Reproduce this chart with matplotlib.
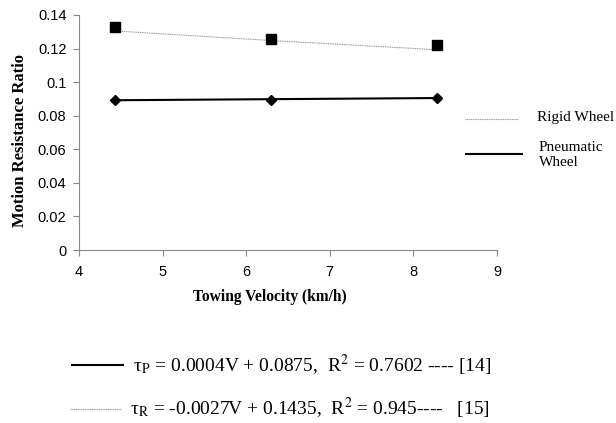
import numpy as np
import matplotlib
matplotlib.use('Agg')
import matplotlib.pyplot as plt

plt.rcParams['mathtext.fontset'] = 'stix'

# towing velocity (km/h)
velocity = [4.43, 6.30, 8.28]
rigid = [0.1329, 0.1256, 0.1222]
pneumatic = [0.0894, 0.0895, 0.0907]
# trend line values as drawn in the figure
rigid_trend = [0.1305, 0.1248, 0.1193]

x_ticks = [4, 5, 6, 7, 8, 9]
y_ticks = [0, 0.02, 0.04, 0.06, 0.08, 0.1, 0.12, 0.14]
y_ticklabels = ['0', '0.02', '0.04', '0.06', '0.08', '0.1', '0.12', '0.14']

eq_pneumatic = 'τ$_{\\mathrm{P}}$ = 0.0004V + 0.0875,  R$^{2}$ = 0.7602 ---- [14]'
eq_rigid = 'τ$_{\\mathrm{R}}$ = -0.0027V + 0.1435,  R$^{2}$ = 0.945----   [15]'

serif = 'Liberation Serif'
sans = 'Liberation Sans'
dotted = (0, (1, 0.6))

fig = plt.figure(figsize=(6.16, 4.23), dpi=100)
ax = fig.add_axes([79 / 616, 1 - 250 / 423, 418 / 616, 235 / 423])

v = np.array(velocity)
fit_p = np.polyfit(v, pneumatic, 1)
ax.plot(velocity, rigid_trend, color='#999999', lw=0.8, ls=dotted)
ax.plot(v, np.polyval(fit_p, v), color='black', lw=1.5)
ax.plot(velocity, rigid, 's', color='black', ms=7, ls='none')
ax.plot(velocity, pneumatic, 'D', color='black', ms=5.5, ls='none')

ax.set_xlim(4, 9)
ax.set_ylim(0, 0.14)
ax.set_xticks(x_ticks)
ax.set_yticks(y_ticks)
ax.set_yticklabels(y_ticklabels)
for s in ['top', 'right']:
    ax.spines[s].set_visible(False)
for s in ['left', 'bottom']:
    ax.spines[s].set_color('#888888')
ax.tick_params(direction='out', length=4, color='#888888', labelsize=10.5)
ax.tick_params(axis='x', pad=7)
ax.tick_params(axis='y', pad=5)
for lab in ax.get_xticklabels() + ax.get_yticklabels():
    lab.set_fontfamily(sans)

ax.set_xlabel('Towing Velocity (km/h)', fontfamily=serif, fontweight='bold', fontsize=11.2)
ax.xaxis.set_label_coords(0.457, -0.165)
ax.set_ylabel('Motion Resistance Ratio', fontfamily=serif, fontweight='bold', fontsize=12)
ax.yaxis.set_label_coords(-0.122, 0.464)

# side legend
fig.add_artist(plt.Line2D([465 / 616, 518 / 616], [1 - 119 / 423] * 2, color='#999999', lw=0.8, ls=dotted))
fig.text(537 / 616, 1 - 117 / 423, 'Rigid Wheel', fontfamily=serif, fontsize=11, va='center')
fig.add_artist(plt.Line2D([466 / 616, 522 / 616], [1 - 154 / 423] * 2, color='black', lw=1.5))
fig.text(539 / 616, 1 - 155 / 423, 'Pneumatic\nWheel', fontfamily=serif, fontsize=11, va='center', linespacing=1.2)

# equations
fig.add_artist(plt.Line2D([72 / 616, 123 / 616], [1 - 365 / 423] * 2, color='black', lw=1.5))
fig.text(133 / 616, 1 - 365 / 423, eq_pneumatic, fontfamily=serif, fontsize=14, va='center')
fig.add_artist(plt.Line2D([70 / 616, 121 / 616], [1 - 409 / 423] * 2, color='#999999', lw=0.8, ls=dotted))
fig.text(130 / 616, 1 - 408 / 423, eq_rigid, fontfamily=serif, fontsize=14, va='center')

fig.savefig('out.png', dpi=100)
